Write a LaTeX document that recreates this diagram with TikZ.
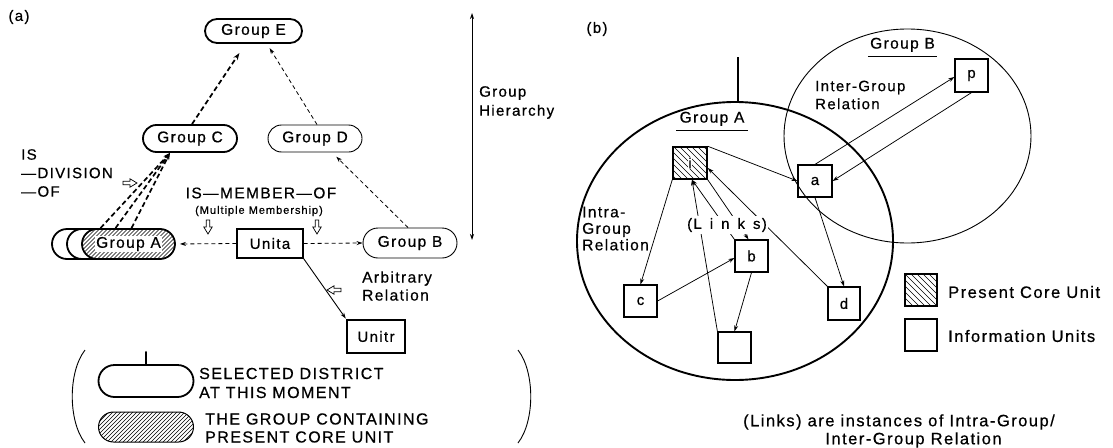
\documentclass[tikz,border=0pt]{standalone}
\usepackage{fontspec}
\setmainfont[LetterSpace=9,FakeBold=0.6]{Liberation Sans}
\usetikzlibrary{arrows.meta,shapes.misc,shapes.geometric,calc}

\tikzset{
  hatchNE/.style={path picture={
      \foreach \k in {-120,-116,...,120}{
        \draw[line width=0.55pt] ([xshift={(\k-60)*1pt}, yshift=-60pt]path picture bounding box.center) -- ++(120pt,120pt);}}},
  hatchNW/.style={path picture={
      \foreach \k in {-60,-54,...,60}{
        \draw[line width=0.5pt] ([xshift={(\k-40)*1pt}, yshift=40pt]path picture bounding box.center) -- ++(80pt,-80pt);}}},
  hollow/.pic={\draw[line width=0.7pt, fill=white]
      (-7,-1.8) -- (0,-1.8) -- (0,-4.2) -- (7,0) -- (0,4.2) -- (0,1.8) -- (-7,1.8) -- cycle;},
}

\begin{document}
\begin{tikzpicture}[x=1pt,y=-1pt,
  f14/.style={font=\fontsize{15}{18}\selectfont},
  fgrp/.style={font=\fontsize{15.5}{18}\selectfont},
  grp/.style={rounded rectangle, draw, minimum width=94pt, minimum height=27pt,
              inner sep=0pt, fill=white, fgrp},
  grpthick/.style={grp, line width=1.8pt},
  grpthin/.style={grp, line width=0.9pt},
  unitbox/.style={rectangle, draw, line width=1.3pt, inner sep=0pt, fill=white, f14},
  infobox/.style={rectangle, draw, line width=1.2pt, inner sep=0pt,
                  minimum width=33pt, minimum height=32pt, f14},
  tip/.style={-{Stealth[length=6pt,width=4pt]}},
  dashthin/.style={dash pattern=on 4pt off 3pt, line width=0.8pt, tip},
  dashthick/.style={dash pattern=on 5pt off 3pt, line width=1.7pt,
                    -{Stealth[length=7pt,width=5pt]}},
  link/.style={line width=0.75pt, tip},
  txt/.style={inner sep=0pt, align=left, f14},
]
\useasboundingbox (0,0) rectangle (1113,447);

% ---------------- (a) group structure ----------------
\node[txt] (tagA) at (19,17) {(a)};

\node[grpthick, minimum width=97pt, minimum height=24pt] (gE) at (253.5,31) {Group E};
\node[grpthick] (gC) at (190,138.5) {Group C};
\node[grpthin]  (gD) at (315,138.5) {Group D};

% stacked divisions of Group A
\node[grpthick, minimum width=93pt, minimum height=30pt] (gA3) at (98.5,244) {};
\node[grpthick, minimum width=93pt, minimum height=30pt] (gA2) at (113.5,244) {};
\node[grpthick, minimum width=93pt, minimum height=30pt, hatchNE] (gA) at (128.5,244) {};
\node[fill=white, inner sep=0.8pt, fgrp] (gAtxt) at (gA) {Group A};

\node[unitbox, minimum width=66pt, minimum height=29pt] (unita) at (270,243.5) {Unita};
\node[grpthin, minimum height=30pt] (gB) at (410,243) {Group B};
\node[unitbox, minimum width=58pt, minimum height=33pt] (unitr) at (376,336.5) {Unitr};

% IS-DIVISION-OF links
\draw[dashthick] ([xshift=-28pt]gA.north) -- ([xshift=-20pt]gC.south);
\draw[dashthick] ([xshift=-13pt]gA.north) -- ([xshift=-20pt]gC.south);
\draw[dashthick] ([xshift=3pt]gA.north)   -- ([xshift=-20pt]gC.south);
\draw[dashthick, shorten >=11pt] ([xshift=2pt]gC.north) -- ([xshift=-8pt]gE.south);
\draw[dashthin, shorten >=5pt] ([xshift=2pt]gD.north) -- ([xshift=13.5pt]gE.south);
\draw[dashthin, shorten >=6pt] ([xshift=-2pt]gB.north) -- ([xshift=17pt]gD.south);

% IS-MEMBER-OF links
\draw[dashthin, shorten >=4pt] (unita.west) -- (gA.east);
\draw[dashthin] (unita.east) -- (gB.west);

% arbitrary relation
\draw[link, line width=0.9pt, shorten >=1pt] (unita.south east) -- (unitr.north west);

% hierarchy axis
\coordinate (hTop) at (472,13);
\coordinate (hBot) at (472,240);
\draw[line width=0.8pt, {Stealth[length=6pt,width=4pt]}-{Stealth[length=6pt,width=4pt]}] (hTop) -- (hBot);
\node[txt, anchor=west, font=\fontsize{15}{19}\selectfont] (hLab) at (479,102.5) {Group\\Hierarchy};

% relation labels
\node[txt, anchor=west, font=\fontsize{15}{18.5}\selectfont] (divLab) at (21,173) {IS\\—DIVISION\\—OF};
\pic[rotate=0] at (130,183) {hollow};
\node[txt, fgrp] (memLab) at (261,193) {IS—MEMBER—OF};
\node[txt, font=\fontsize{11}{13}\selectfont] (multLab) at (259,211) {(Multiple Membership)};
\pic[rotate=-90] at (208,227) {hollow};
\pic[rotate=-90] at (317,227) {hollow};
\node[txt, anchor=west, font=\fontsize{15.5}{18}\selectfont] (arbLab) at (362,286) {Arbitrary\\Relation};
\pic[rotate=180] at (334,290) {hollow};

% legend of (a)
\draw[line width=0.9pt] (85,350) .. controls (68,372) and (68,421) .. (85,443);
\draw[line width=0.9pt] (518,350) .. controls (535,372) and (535,421) .. (518,443);
\node[grpthick, minimum width=95pt, minimum height=32pt] (lg1) at (146,381) {};
\draw[line width=2.4pt, line cap=round] (lg1.north) -- ++(0,-12);
\node[txt, anchor=west, font=\fontsize{16}{19}\selectfont] (lg1txt) at (199,383) {SELECTED DISTRICT\\AT THIS MOMENT};
\node[grp, line width=1pt, minimum width=95pt, minimum height=30pt, hatchNE] (lg2) at (146,427) {};
\node[txt, anchor=west, font=\fontsize{16}{18}\selectfont] (lg2txt) at (205,428) {THE GROUP CONTAINING\\PRESENT CORE UNIT};

% ---------------- (b) units and links ----------------
\node[txt] (tagB) at (597,29) {(b)};

\node[ellipse, draw, line width=0.9pt, minimum width=247pt, minimum height=214pt, inner sep=0pt] (grpB) at (907.5,136) {};
\node[ellipse, draw, line width=1.9pt, minimum width=316pt, minimum height=278pt, inner sep=0pt] (grpA) at (735,241) {};
\draw[line width=2pt] ([xshift=3pt]grpA.north) -- ++(0,-44);

\node[fgrp, inner xsep=3pt, inner ysep=4pt, anchor=south] (lblA) at (712,130) {Group A};
\draw[line width=0.9pt] (lblA.south west) -- (lblA.south east);
\node[fgrp, inner xsep=2pt, inner ysep=4pt, anchor=south] (lblB) at (902.5,56) {Group B};
\draw[line width=0.9pt] (lblB.south west) -- (lblB.south east);

\node[infobox, line width=1.5pt, minimum width=34pt, hatchNW] (ui) at (690,163) {};
\node[fill=white, inner sep=0.5pt, f14] (uitxt) at (ui) {i};
\node[infobox, minimum width=34pt] (ua) at (815,181) {a};
\node[infobox, minimum height=33pt] (up) at (971.5,75.5) {p};
\node[infobox] (ub) at (751.5,256) {b};
\node[infobox] (uc) at (640.5,301) {c};
\node[infobox, minimum width=32pt, minimum height=33pt] (ud) at (844,303.5) {d};
\node[infobox, minimum height=31pt] (ue) at (734.5,347.5) {};

% inter-group relation
\draw[link] (ui.north east) -- (ua.west);
\draw[link] (ua.north) -- ([yshift=-1.5pt]up.west);
\draw[link] (up.south) -- (ua.east);
\draw[link] (ua.south) -- (ud.north);

% intra-group relation
\draw[link] (ui.south west) -- (uc.north);
\draw[link] (uc.east) -- ([yshift=-2pt]ub.west);
\draw[link] (ub.south) -- (ue.north);
\draw[link] (ue.north west) -- ([xshift=2pt]ui.south);
\draw[link] (ub.north west) -- ([xshift=2pt]ui.south);
\draw[link] (ui.south east) -- ([xshift=-3pt]ub.north);
\draw[link] (ud.north west) -- ([yshift=-5pt]ui.east);

\node[fill=white, inner xsep=1pt, inner ysep=2pt, f14] (links) at (727,225)
  {(L\hspace{8pt}i\hspace{8pt}n\hspace{8pt}k\hspace{8pt}s)};

\node[txt, anchor=west, font=\fontsize{15.5}{16.5}\selectfont] (intraLab) at (582,228.5) {Intra-\\Group\\Relation};
\node[txt, anchor=west, font=\fontsize{15}{18}\selectfont] (interLab) at (815,95) {Inter-Group\\Relation};

% legend of (b)
\node[infobox, line width=1.3pt, minimum width=32pt, hatchNW] (lgCore) at (921,290) {};
\node[txt, anchor=west, font=\fontsize{16.5}{19}\selectfont] (lgCoreTxt) at (948,292) {Present Core Unit};
\node[infobox, line width=1.3pt, minimum width=32pt] (lgInfo) at (921,335) {};
\node[txt, anchor=west, font=\fontsize{16.5}{19}\selectfont] (lgInfoTxt) at (948,336) {Information Units};

\node[txt, font=\fontsize{16.5}{18}\selectfont] (note1) at (899,422) {(Links) are instances of Intra-Group/};
\node[txt, font=\fontsize{16.5}{18}\selectfont] (note2) at (913.5,440) {Inter-Group Relation};
\end{tikzpicture}
\end{document}
